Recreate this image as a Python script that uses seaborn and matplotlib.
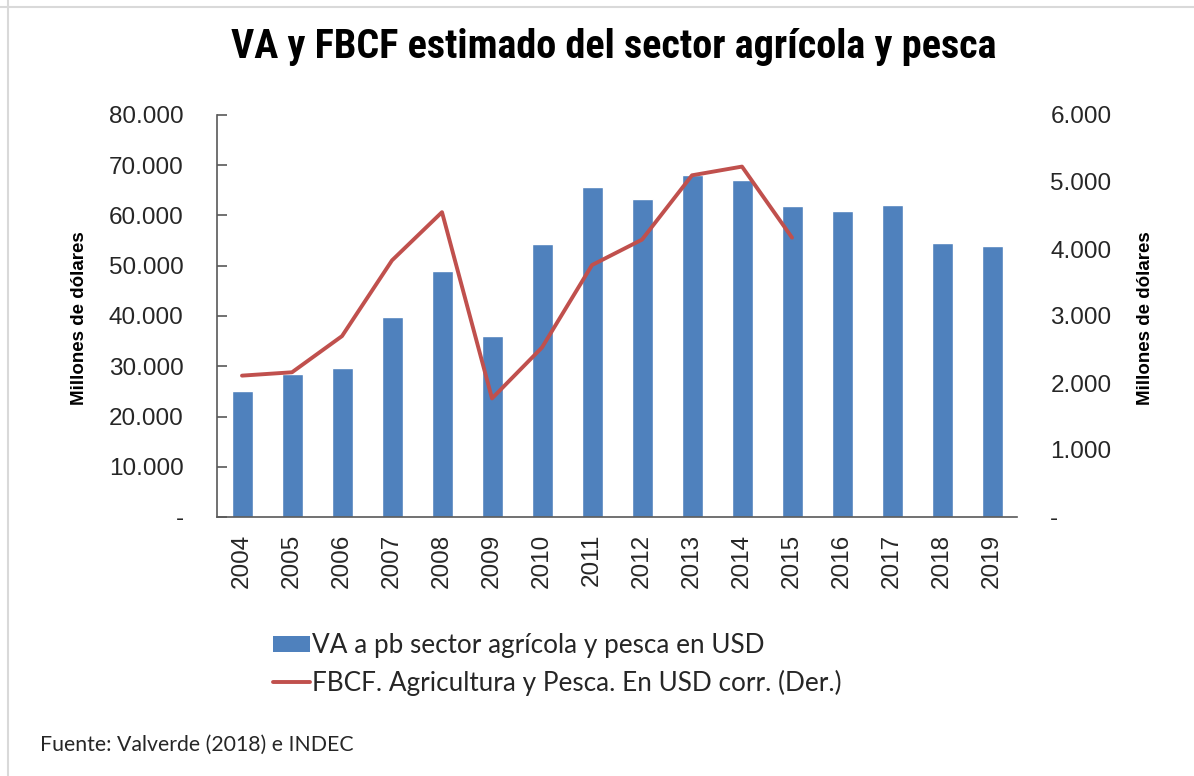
import numpy as np
import pandas as pd
import matplotlib
matplotlib.use("Agg")
import matplotlib.pyplot as plt
from matplotlib.ticker import FuncFormatter, MultipleLocator
from matplotlib.lines import Line2D
from matplotlib.patches import Patch
import seaborn as sns

# --- data ---
years = [2004, 2005, 2006, 2007, 2008, 2009, 2010, 2011,
         2012, 2013, 2014, 2015, 2016, 2017, 2018, 2019]
va_usd = [25000, 28400, 29700, 39800, 48900, 36100, 54400, 65700,
          63200, 68100, 67100, 61800, 60900, 62100, 54600, 54000]
fbcf_years = [2004, 2005, 2006, 2007, 2008, 2009, 2010, 2011,
              2012, 2013, 2014, 2015]
fbcf_usd = [2110, 2160, 2700, 3830, 4550, 1770, 2530, 3760,
            4140, 5100, 5230, 4170]

title = "VA y FBCF estimado del sector agrícola y pesca"
ylabel = "Millones de dólares"
bar_label = "VA a pb sector agrícola y pesca en USD"
line_label = "FBCF. Agricultura y Pesca. En USD corr. (Der.)"
source = "Fuente: Valverde (2018) e INDEC"

bar_color = "#4F81BD"
line_color = "#C0504D"
text_color = "#262626"

df_va = pd.DataFrame({"year": years, "va": va_usd})
df_fbcf = pd.DataFrame({"year": fbcf_years, "fbcf": fbcf_usd})

sns.set_style("white")
plt.rcParams["font.family"] = ["Liberation Sans", "DejaVu Sans"]

fig = plt.figure(figsize=(11.94, 7.76), dpi=100)
ax = fig.add_axes([217 / 1194, 1 - 517 / 776, 800 / 1194, 402 / 776])

sns.barplot(data=df_va, x="year", y="va", native_scale=True, color=bar_color,
            saturation=1, width=0.42, ax=ax)

ax2 = ax.twinx()
sns.lineplot(data=df_fbcf, x="year", y="fbcf", color=line_color,
             linewidth=2.8, ax=ax2)


def thousands(v, pos):
    if abs(v) < 1e-9:
        return "-"
    return f"{v:,.0f}".replace(",", ".")


ax.set_xlim(2003.5, 2019.5)
ax.set_ylim(0, 80000)
ax2.set_ylim(0, 6000)
ax.yaxis.set_major_locator(MultipleLocator(10000))
ax2.yaxis.set_major_locator(MultipleLocator(1000))
ax.yaxis.set_major_formatter(FuncFormatter(thousands))
ax2.yaxis.set_major_formatter(FuncFormatter(thousands))
ax.set_xticks(years)
ax.set_xticklabels([str(y) for y in years], rotation=90)

for s in ["top", "right"]:
    ax.spines[s].set_visible(False)
for s in ["top", "right", "left", "bottom"]:
    ax2.spines[s].set_visible(False)
ax.spines["left"].set_color("#595959")
ax.spines["bottom"].set_color("#595959")
ax.spines["left"].set_linewidth(1.2)
ax.spines["bottom"].set_linewidth(1.2)

ax.tick_params(axis="y", direction="in", length=7, width=1.2, color="#595959",
               pad=24, labelsize=17.5, labelcolor=text_color)
ax.tick_params(axis="x", length=0, pad=12, labelsize=17.5, labelcolor=text_color)
ax2.tick_params(axis="y", length=0, pad=24, labelsize=17.5, labelcolor=text_color)

ax.set_xlabel("")
ax.set_ylabel("")
ax2.set_xlabel("")
ax2.set_ylabel("")
fig.text(80 / 1194, 1 - 318 / 776, ylabel, rotation=90, ha="center", va="center",
         fontsize=13.5, fontweight="bold", color="black")
fig.text(1145 / 1194, 1 - 318 / 776, ylabel, rotation=90, ha="center", va="center",
         fontsize=13.5, fontweight="bold", color="black")

fig.text(614 / 1194, 1 - 47 / 776, title, ha="center", va="center",
         fontsize=29, fontweight="bold", color="black",
         family=["Roboto Condensed", "Roboto", "DejaVu Sans"])

handles = [Patch(facecolor=bar_color, edgecolor="none"),
           Line2D([0], [0], color=line_color, linewidth=2.8)]
leg = fig.legend(handles, [bar_label, line_label], loc="upper left",
                 bbox_to_anchor=(273 / 1194, 1 - 633 / 776), frameon=False,
                 borderpad=0, borderaxespad=0, handlelength=1.4,
                 handleheight=0.6, handletextpad=0.1, labelspacing=0.45,
                 prop={"family": ["Lato", "DejaVu Sans"], "size": 18.8})
for t in leg.get_texts():
    t.set_color(text_color)

fig.text(40 / 1194, 1 - 745 / 776, source, ha="left", va="center",
         fontsize=15.3, color=text_color, family=["Lato", "DejaVu Sans"])

# light frame on top and left edge, as in the screenshot
fig.add_artist(Line2D([0, 1], [1 - 7 / 776] * 2, color="#D9D9D9", linewidth=1.5,
                      transform=fig.transFigure))
fig.add_artist(Line2D([8 / 1194] * 2, [0, 1], color="#D9D9D9", linewidth=1.5,
                      transform=fig.transFigure))

fig.savefig("out.png", dpi=100)
